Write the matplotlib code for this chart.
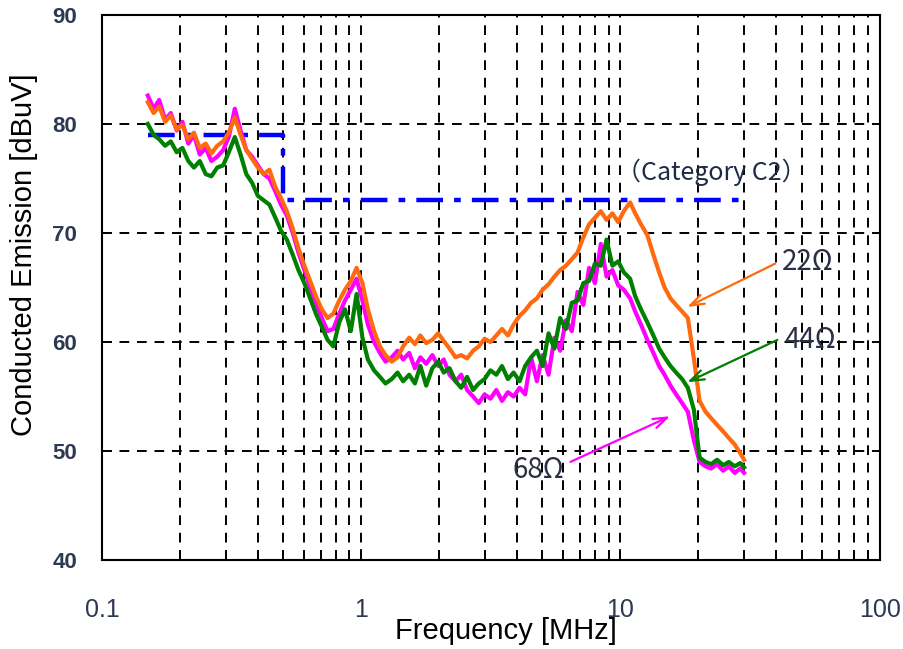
import numpy as np
import matplotlib
matplotlib.use("Agg")
import matplotlib.pyplot as plt
from matplotlib import ticker, font_manager

# ---- data (frequency in MHz, level in dBuV) ----
freq = [0.150, 0.158, 0.166, 0.175, 0.184, 0.194, 0.204, 0.215, 0.226, 0.238,
        0.251, 0.264, 0.278, 0.293, 0.308, 0.325, 0.342, 0.360, 0.379, 0.399,
        0.420, 0.442, 0.466, 0.490, 0.516, 0.544, 0.572, 0.603, 0.635, 0.668,
        0.704, 0.741, 0.780, 0.822, 0.865, 0.911, 0.959, 1.01, 1.06, 1.12,
        1.18, 1.24, 1.31, 1.38, 1.45, 1.53, 1.61, 1.69, 1.78, 1.88,
        1.98, 2.08, 2.19, 2.31, 2.43, 2.56, 2.70, 2.84, 2.99, 3.15,
        3.32, 3.49, 3.68, 3.87, 4.08, 4.29, 4.52, 4.76, 5.01, 5.28,
        5.56, 5.85, 6.16, 6.49, 6.83, 7.19, 7.57, 7.97, 8.40, 8.84,
        9.31, 9.80, 10.3, 10.9, 11.4, 12.0, 12.7, 13.4, 14.1, 14.8,
        15.6, 16.4, 17.3, 18.2, 19.2, 20.2, 21.3, 22.4, 23.6, 24.9,
        26.2, 27.6, 29.0, 30.0]

r22 = [82.0, 81.0, 81.6, 80.2, 80.8, 79.5, 79.9, 78.6, 79.2, 77.8,
       78.2, 77.3, 78.0, 78.4, 79.2, 80.6, 79.0, 77.6, 76.8, 76.0,
       75.4, 75.8, 74.2, 73.2, 72.0, 70.4, 68.6, 67.0, 65.6, 64.2,
       63.0, 62.2, 62.6, 63.8, 64.8, 65.6, 66.8, 65.4, 63.0, 61.0,
       59.6, 58.8, 58.2, 58.6, 59.6, 60.4, 59.8, 60.6, 59.9, 60.2,
       60.8, 60.1, 59.4, 58.6, 58.8, 58.5, 59.2, 59.6, 60.3, 60.0,
       60.6, 61.2, 60.6, 61.6, 62.4, 62.9, 63.6, 64.0, 64.8, 65.3,
       66.0, 66.6, 67.0, 67.6, 68.2, 69.6, 70.8, 71.4, 72.0, 71.2,
       71.8, 71.0, 72.0, 72.8, 71.8, 70.8, 69.8, 68.0, 66.4, 65.0,
       64.0, 63.4, 62.8, 62.2, 58.5, 54.6, 53.6, 53.0, 52.4, 51.8,
       51.2, 50.6, 49.8, 49.2]

r44 = [80.0, 79.0, 78.6, 78.0, 78.4, 77.4, 77.8, 76.6, 76.0, 76.6,
       75.4, 75.2, 76.0, 76.2, 77.4, 78.8, 77.2, 75.4, 74.6, 73.4,
       73.0, 72.6, 71.4, 70.2, 69.4, 68.0, 66.6, 65.4, 64.0, 62.6,
       61.4, 60.2, 59.6, 61.8, 63.0, 61.0, 64.4, 60.4, 58.4, 57.4,
       56.8, 56.2, 56.6, 57.2, 56.4, 57.0, 56.2, 57.8, 56.0, 57.6,
       58.2, 57.2, 57.6, 56.4, 55.8, 56.8, 55.6, 56.2, 56.6, 57.4,
       57.0, 57.8, 56.6, 57.2, 56.4, 57.8, 58.6, 59.2, 57.8, 60.8,
       59.4, 62.2, 61.2, 63.6, 63.8, 65.4, 65.6, 67.2, 67.0, 69.4,
       67.0, 67.4, 66.4, 65.8, 64.2, 63.0, 61.8, 60.6, 59.4, 58.6,
       57.8, 57.2, 56.6, 55.8, 53.8, 49.4, 49.0, 48.8, 49.2, 48.7,
       49.0, 48.6, 48.9, 48.5]

r68 = [82.6, 81.4, 82.2, 80.4, 81.0, 79.4, 80.2, 78.2, 79.0, 77.2,
       77.8, 76.6, 77.0, 77.6, 78.8, 81.4, 79.4, 77.6, 77.0, 76.2,
       75.4, 75.0, 73.8, 72.6, 71.6, 70.0, 68.2, 66.6, 65.0, 63.6,
       62.2, 61.0, 61.2, 62.6, 63.8, 64.8, 65.8, 63.8, 61.6, 60.0,
       59.0, 58.2, 58.6, 59.2, 58.4, 59.0, 57.6, 58.6, 58.0, 58.8,
       57.8, 58.4, 57.0, 56.4, 57.0, 55.6, 55.0, 54.4, 55.2, 54.8,
       55.6, 54.6, 55.4, 55.0, 55.8, 55.2, 58.6, 56.4, 58.8, 57.0,
       60.4, 59.2, 62.0, 61.0, 64.6, 63.4, 66.8, 65.4, 69.0, 66.0,
       66.6, 65.2, 64.8, 64.0, 62.8, 61.6, 60.2, 59.0, 57.8, 57.0,
       56.0, 55.2, 54.4, 53.6, 51.0, 49.0, 48.6, 48.4, 48.8, 48.2,
       48.6, 48.0, 48.4, 48.0]

# CISPR limit, category C2
limit_f = [0.15, 0.5, 0.5, 30]
limit_db = [79, 79, 73, 73]

# ---- fonts ----
names = {f.name for f in font_manager.fontManager.ttflist}
narrow = "Liberation Sans Narrow" if "Liberation Sans Narrow" in names else "Liberation Sans"
jp = ["Noto Sans CJK JP", "DejaVu Sans"]
plt.rcParams["font.family"] = ["Liberation Sans", "DejaVu Sans"]

tick_col = "#2d3852"
note_col = "#2a2f45"

fig = plt.figure(figsize=(9.04, 6.49), dpi=100)
ax = fig.add_axes([0.113, 0.137, 0.86, 0.84])

# limit line (under the traces)
ax.plot(limit_f, limit_db, color="#0000ff", lw=3.2, dashes=(6, 2.5, 1.5, 2.5), zorder=2)

# traces
ax.plot(freq, r68, color="#ff00ff", lw=3.0, zorder=3)
ax.plot(freq, r44, color="#008000", lw=3.0, zorder=4)
ax.plot(freq, r22, color="#ff6a10", lw=3.0, zorder=5)

ax.set_xscale("log")
ax.set_xlim(0.1, 100)
ax.set_ylim(40, 90)
ax.xaxis.set_major_locator(ticker.FixedLocator([0.1, 1, 10, 100]))
ax.xaxis.set_minor_locator(ticker.LogLocator(base=10, subs=np.arange(2, 10)))
ax.xaxis.set_minor_formatter(ticker.NullFormatter())
ax.set_xticklabels(["0.1", "1", "10", "100"], fontsize=18, color=tick_col, family=narrow)
ax.set_yticks([40, 50, 60, 70, 80, 90])
ax.set_yticklabels(["40", "50", "60", "70", "80", "90"], fontsize=16,
                   fontweight="bold", color=tick_col)

ax.grid(True, which="major", color="black", lw=1.4, dashes=(5, 4))
ax.grid(True, which="minor", axis="x", color="black", lw=1.4, dashes=(5, 4))
ax.tick_params(axis="x", which="major", direction="in", length=8, width=1.2, pad=27)
ax.tick_params(axis="x", which="minor", direction="in", length=7, width=1.2)
ax.tick_params(axis="y", direction="in", length=7, width=1.2, pad=18)
for s in ax.spines.values():
    s.set_linewidth(1.5)
    s.set_color("black")

ax.set_xlabel("Frequency [MHz]", fontsize=21, family=narrow)
ax.xaxis.set_label_coords(0.519, -0.104)
ax.set_ylabel("Conducted Emission [dBuV]", fontsize=21)
ax.yaxis.set_label_coords(-0.083, 0.56)

# labels and arrows
ax.text(9.6, 75.6, "（Category C2）", family=jp, fontsize=18, color="#1f2a44",
        va="center", ha="left")

ax.annotate("", xy=(17.7, 63.1), xytext=(40.4, 67.3),
            arrowprops=dict(arrowstyle="->,head_length=1.0,head_width=0.35",
                            color="#ff6a10", lw=1.6), zorder=6)
ax.text(42, 67.3, "22Ω", family=jp, fontsize=20, color=note_col, va="center", ha="left")

ax.annotate("", xy=(17.7, 56.2), xytext=(41.2, 60.3),
            arrowprops=dict(arrowstyle="->,head_length=1.0,head_width=0.35",
                            color="#008000", lw=1.6), zorder=6)
ax.text(43, 60.2, "44Ω", family=jp, fontsize=20, color=note_col, va="center", ha="left")

ax.annotate("", xy=(15.9, 53.3), xytext=(6.27, 48.9),
            arrowprops=dict(arrowstyle="->,head_length=1.0,head_width=0.35",
                            color="#ff00ff", lw=1.6), zorder=6)
ax.text(6.05, 48.3, "68Ω", family=jp, fontsize=20, color=note_col, va="center", ha="right")

fig.savefig("out.png", dpi=100)
